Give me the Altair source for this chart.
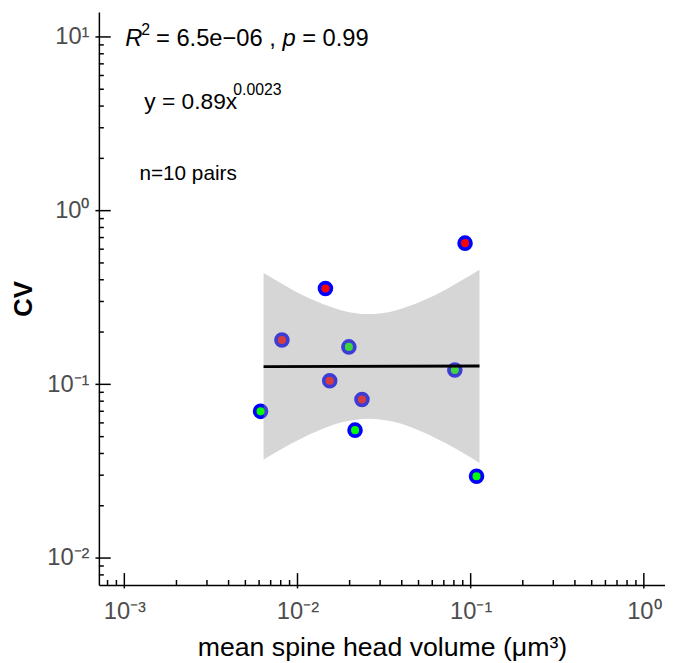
import math
import altair as alt
import pandas as pd

# ---------------- data ----------------
vol = [0.0928, 0.0145, 0.00813, 0.0198, 0.01535, 0.0810, 0.02356, 0.00612, 0.02149, 0.1081]
cv = [0.650, 0.356, 0.180, 0.1643, 0.1049, 0.1211, 0.0818, 0.0699, 0.0545, 0.0296]
centre = ["red", "red", "red", "green", "red", "green", "red", "green", "green", "green"]

band_x = [0.006368, 0.009162, 0.012942, 0.018281, 0.025823, 0.036475, 0.051523, 0.072778, 0.11246]
band_hi = [0.4370, 0.3545, 0.2995, 0.2657, 0.2541, 0.2657, 0.2995, 0.3545, 0.4563]
band_lo = [0.03687, 0.04545, 0.05379, 0.06064, 0.06340, 0.06064, 0.05379, 0.04545, 0.03530]

line_x = [0.006368, 0.11246]
line_y = [0.1265, 0.1274]

x_major = [0.001, 0.01, 0.1, 1]
x_major_labels = ["10⁻³", "10⁻²", "10⁻¹", "10⁰"]
x_minor = [0.0008, 0.0009,
           0.002, 0.003, 0.004, 0.005, 0.006, 0.007, 0.008, 0.009,
           0.02, 0.03, 0.04, 0.05, 0.06, 0.07, 0.08, 0.09,
           0.2, 0.3, 0.4, 0.5, 0.6, 0.7, 0.8, 0.9]
y_major = [0.01, 0.1, 1, 10]
y_major_labels = ["10⁻²", "10⁻¹", "10⁰", "10¹"]
y_minor = [0.008, 0.009,
           0.02, 0.03, 0.04, 0.05, 0.06, 0.07, 0.08, 0.09,
           0.2, 0.3, 0.4, 0.5, 0.6, 0.7, 0.8, 0.9,
           2, 3, 4, 5, 6, 7, 8, 9]

x_title = "mean spine head volume (μm³)"
y_title = "CV"

r2_parts = ["R", "2", "= 6.5e−06 ,", "p", "= 0.99"]
eq_parts = ["y = 0.89x", "0.0023"]
n_text = "n=10 pairs"
# annotation anchors (data units)
r2_anchor = (0.001, 8.92)
eq_anchor = (0.001304, 3.86)
n_anchor = (0.001222, 1.503)

# ---------------- chart ----------------
W, H = 573, 580
FONT = "Liberation Sans"

xs = alt.Scale(type="log", domain=[0.000713, 1.325], nice=False)
ys = alt.Scale(type="log", domain=[0.00700, 13.93], nice=False)


def label_expr(vals, labels):
    expr = "''"
    for v, l in reversed(list(zip(vals, labels))):
        expr = f"(abs(log(datum.value)/LN10 - ({math.log10(v)})) < 0.01 ? '{l}' : {expr})"
    return expr


AX_X = alt.Axis(
    values=x_major, labelExpr=label_expr(x_major, x_major_labels),
    ticks=False, grid=False, domainColor="black", domainWidth=1.5,
    labelFontSize=24, labelColor="#4d4d4d", labelPadding=15, labelFont=FONT,
    title=x_title, titleFontSize=27, titleFontWeight="normal", titleColor="black",
    titleFont=FONT, titlePadding=11)
AX_Y = alt.Axis(
    values=y_major, labelExpr=label_expr(y_major, y_major_labels),
    ticks=False, grid=False, domainColor="black", domainWidth=1.5,
    labelFontSize=24, labelColor="#4d4d4d", labelPadding=10, labelFont=FONT,
    title=y_title, titleFontSize=26, titleFontWeight="bold", titleColor="black",
    titleFont=FONT, titlePadding=11)


def X(f):
    return alt.X(f, scale=xs, axis=AX_X, title=x_title)


def Y(f):
    return alt.Y(f, scale=ys, axis=AX_Y, title=y_title)


pts = pd.DataFrame({"vol": vol, "cv": cv, "centre": centre})
band = pd.DataFrame({"x": band_x, "lo": band_lo, "hi": band_hi})
fit = pd.DataFrame({"x": line_x, "y": line_y})

points = alt.Chart(pts).mark_circle(
    size=143, stroke="#0000ff", strokeWidth=3.8, opacity=1
).encode(
    x=X("vol:Q"), y=Y("cv:Q"),
    fill=alt.Fill("centre:N", scale=alt.Scale(domain=["red", "green"], range=["#ff0000", "#00ff00"]), legend=None),
)

band_layer = alt.Chart(band).mark_area(color="#999999", opacity=0.4, interpolate="monotone").encode(
    x=X("x:Q"), y=Y("lo:Q"), y2="hi:Q",
)

line_layer = alt.Chart(fit).mark_line(color="black", strokeWidth=3).encode(
    x=X("x:Q"), y=Y("y:Q"),
)

ymaj = alt.Chart(pd.DataFrame({"v": y_major})).mark_rule(color="black", strokeWidth=1.5).encode(
    y=Y("v:Q"), x=alt.value(-3.5), x2=alt.value(12))
ymin = alt.Chart(pd.DataFrame({"v": y_minor})).mark_rule(color="black", strokeWidth=1.5).encode(
    y=Y("v:Q"), x=alt.value(0), x2=alt.value(5))
xmaj = alt.Chart(pd.DataFrame({"v": x_major})).mark_rule(color="black", strokeWidth=1.5).encode(
    x=X("v:Q"), y=alt.value(H + 3.5), y2=alt.value(H - 12))
xmin = alt.Chart(pd.DataFrame({"v": x_minor})).mark_rule(color="black", strokeWidth=1.5).encode(
    x=X("v:Q"), y=alt.value(H), y2=alt.value(H - 5))


def txt(s, anchor, dx=0, dy=0, size=21, style="normal"):
    df = pd.DataFrame({"x": [anchor[0]], "y": [anchor[1]], "t": [s]})
    return alt.Chart(df).mark_text(
        align="left", baseline="alphabetic", dx=dx, dy=dy, fontSize=size,
        fontStyle=style, font=FONT, color="black"
    ).encode(
        x=X("x:Q"), y=Y("y:Q"),
        text="t:N",
    )


texts = [
    txt(r2_parts[0], r2_anchor, dx=1, size=24, style="italic"),
    txt(r2_parts[1], r2_anchor, dx=17, dy=-11, size=16),
    txt(r2_parts[2], r2_anchor, dx=32, size=24),
    txt(r2_parts[3], r2_anchor, dx=160, size=24, style="italic"),
    txt(r2_parts[4], r2_anchor, dx=180, size=24),
    txt(eq_parts[0], eq_anchor, size=23),
    txt(eq_parts[1], eq_anchor, dx=90, dy=-14, size=16),
    txt(n_text, n_anchor, size=21),
]

chart = alt.layer(
    points, band_layer, line_layer, ymaj, ymin, xmaj, xmin, *texts
).properties(
    width=W, height=H,
    autosize=alt.AutoSizeParams(type="none"),
    padding={"left": 92, "top": 0, "right": 0, "bottom": 75},
).configure_view(stroke=None)

chart.save("out.html", embed_options={"renderer": "svg", "actions": False})
